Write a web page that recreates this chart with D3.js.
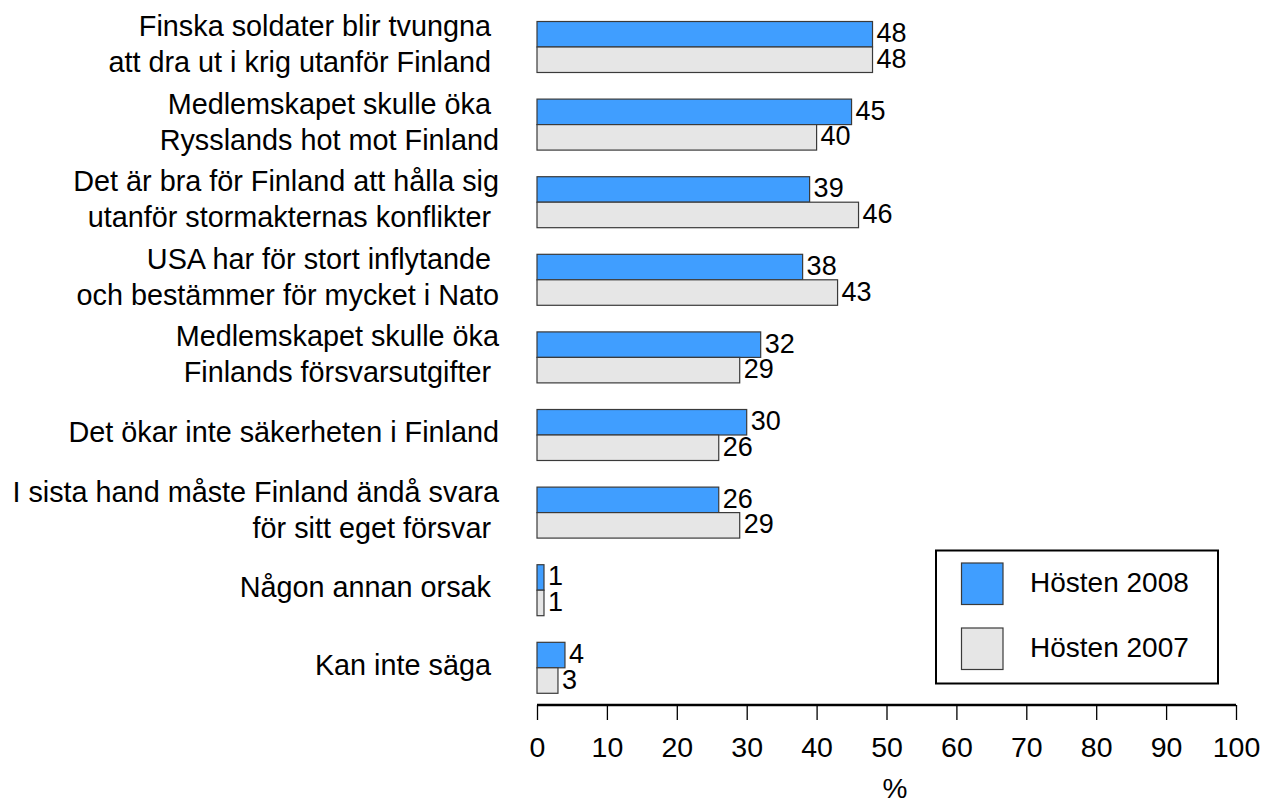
<!DOCTYPE html>
<html>
<head>
<meta charset="utf-8">
<script src="https://cdn.jsdelivr.net/npm/d3@7/dist/d3.min.js"></script>
<style>
  html, body { margin: 0; padding: 0; background: #fff; }
  svg text { font-family: "Liberation Sans", Arial, Helvetica, sans-serif; fill: #000; white-space: pre; }
</style>
</head>
<body>
<svg id="chart" width="1264" height="800"></svg>
<script>
// ---- data ----
const categories = [
  ["Finska soldater blir tvungna ", "att dra ut i krig utanför Finland "],
  ["Medlemskapet skulle öka ", "Rysslands hot mot Finland"],
  ["Det är bra för Finland att hålla sig", "utanför stormakternas konflikter "],
  ["USA har för stort inflytande ", "och bestämmer för mycket i Nato"],
  ["Medlemskapet skulle öka", "Finlands försvarsutgifter "],
  ["Det ökar inte säkerheten i Finland"],
  ["I sista hand måste Finland ändå svara", "för sitt eget försvar "],
  ["Någon annan orsak "],
  ["Kan inte säga "]
];
const series = ["Hösten 2008", "Hösten 2007"];
const values2008 = [48, 45, 39, 38, 32, 30, 26, 1, 4];
const values2007 = [48, 40, 46, 43, 29, 26, 29, 1, 3];
const xTicks = [0, 10, 20, 30, 40, 50, 60, 70, 80, 90, 100];
const xLabel = "%";
const colors = ["#409eff", "#e6e6e6"];

// ---- layout ----
const svg = d3.select("#chart");
const ids = categories.map((c, i) => i);
const x = d3.scaleLinear().domain([0, 100]).range([537, 1236]);
const y = d3.scaleBand().domain(ids).range([8.2, 706.6]).paddingInner(0.343).paddingOuter(0.1715);
const ySub = d3.scaleBand().domain([0, 1]).range([0, y.bandwidth()]);

const seriesValues = [values2008, values2007];

// bars
const groups = svg.append("g").selectAll("g").data(ids).join("g")
  .attr("transform", d => `translate(0,${y(d)})`);

seriesValues.forEach((vals, s) => {
  groups.append("rect")
    .attr("x", x(0))
    .attr("y", ySub(s))
    .attr("width", d => x(vals[d]) - x(0))
    .attr("height", ySub.bandwidth())
    .attr("fill", colors[s])
    .attr("stroke", "#3a3a3a")
    .attr("stroke-width", 1.2);
  groups.append("text")
    .attr("x", d => x(vals[d]) + 4)
    .attr("y", ySub(s) + ySub.bandwidth() / 2 + 8)
    .attr("font-size", 27)
    .text(d => vals[d]);
});

// category labels
groups.each(function(d) {
  const g = d3.select(this);
  const lines = categories[d];
  const c = y.bandwidth() / 2 + 7;
  lines.forEach((line, k) => {
    const off = lines.length === 1 ? 0 : (k === 0 ? -18 : 18);
    g.append("text")
      .attr("x", 499)
      .attr("y", c + off)
      .attr("text-anchor", "end")
      .attr("font-size", 28.8)
      .text(line);
  });
});

// axis
const axisY = 705;
const axis = d3.axisBottom(x).tickValues(xTicks).tickSize(15).tickPadding(0).tickFormat(d3.format("d"));
const ag = svg.append("g").attr("transform", `translate(0,${axisY})`).call(axis);
ag.select(".domain").attr("stroke", "#000").attr("stroke-width", 2.5).attr("d", `M${x(0)},0H${x(100)}`);
ag.selectAll(".tick line").attr("stroke", "#000").attr("stroke-width", 1.3);
ag.selectAll(".tick text")
  .attr("font-size", 28.5)
  .attr("font-family", "Liberation Sans, Arial, sans-serif")
  .attr("fill", "#000")
  .attr("dy", null)
  .attr("y", 52);

svg.append("text")
  .attr("x", 895)
  .attr("y", 798)
  .attr("text-anchor", "middle")
  .attr("font-size", 28)
  .text(xLabel);

// legend
const lg = svg.append("g");
lg.append("rect").attr("x", 936).attr("y", 550.5).attr("width", 282).attr("height", 133)
  .attr("fill", "#fff").attr("stroke", "#000").attr("stroke-width", 2);
series.forEach((name, s) => {
  const top = 563 + s * 65;
  lg.append("rect").attr("x", 961.5).attr("y", top).attr("width", 41.5).attr("height", 41.5)
    .attr("fill", colors[s]).attr("stroke", "#3a3a3a").attr("stroke-width", 1.2);
  lg.append("text").attr("x", 1030).attr("y", top + 29).attr("font-size", 28).text(name);
});
</script>
</body>
</html>
